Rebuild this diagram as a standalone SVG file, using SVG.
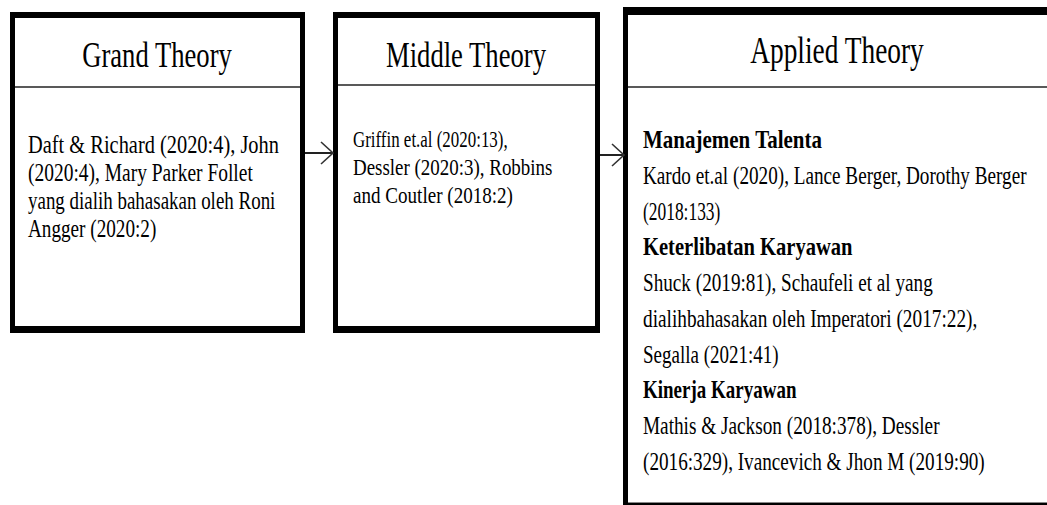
<svg xmlns="http://www.w3.org/2000/svg" width="1047" height="505" viewBox="0 0 1047 505">
<style>
.frame{fill:#000}
.inner{fill:#fff}
.div{stroke:#222;stroke-width:1.6;fill:none}
.title{font-family:"Liberation Serif","Times New Roman",serif;font-size:36px;fill:#000;text-anchor:middle}
.body{font-family:"Liberation Serif","Times New Roman",serif;fill:#000}
.b1{font-size:26px}
.b2{font-size:24px}
.b3{font-size:25px}
.bold{font-weight:bold}
.conn{stroke:#222;stroke-width:2;fill:none}
</style>
<defs>
<marker id="chev" markerUnits="userSpaceOnUse" markerWidth="16" markerHeight="28" refX="13" refY="12" orient="auto">
<path d="M1,1 L13,12 L1,23" fill="none" stroke="#333" stroke-width="1.6"/>
</marker>
</defs>
<rect width="1047" height="505" fill="#fff"/>
<g id="grand-theory">
<rect class="frame" x="10" y="12" width="295" height="321"/>
<rect class="inner" x="15" y="18" width="285" height="308"/>
<line class="div" x1="15" y1="87" x2="300" y2="87"/>
<text class="title" transform="translate(157,67) scale(0.74,1)">Grand Theory</text>
<text class="body b1" transform="translate(28,153) scale(0.785,1)">Daft &amp; Richard (2020:4), John</text>
<text class="body b1" transform="translate(28,181) scale(0.749,1)">(2020:4), Mary Parker Follet</text>
<text class="body b1" transform="translate(28,209) scale(0.729,1)">yang dialih bahasakan oleh Roni</text>
<text class="body b1" transform="translate(28,237) scale(0.738,1)">Angger (2020:2)</text>
</g>
<g id="middle-theory">
<rect class="frame" x="333" y="12" width="267" height="321"/>
<rect class="inner" x="338" y="18" width="257" height="308"/>
<line class="div" x1="338" y1="85" x2="595" y2="85"/>
<text class="title" transform="translate(466,67) scale(0.74,1)">Middle Theory</text>
<text class="body b2" transform="translate(353,147) scale(0.705,1)">Griffin et.al (2020:13),</text>
<text class="body b2" transform="translate(353,175) scale(0.79,1)">Dessler (2020:3), Robbins</text>
<text class="body b2" transform="translate(353,203) scale(0.795,1)">and Coutler (2018:2)</text>
</g>
<g id="applied-theory">
<rect class="frame" x="623" y="7" width="424" height="498"/>
<rect class="inner" x="628" y="15" width="419" height="487"/>
<line x1="628" y1="502.5" x2="1047" y2="502.5" stroke="#888" stroke-width="1"/>
<line class="div" x1="628" y1="87" x2="1047" y2="87"/>
<text class="title" style="font-size:38px" transform="translate(837,63) scale(0.72,1)">Applied Theory</text>
<text class="body b3 bold" transform="translate(643,148) scale(0.84,1)">Manajemen Talenta</text>
<text class="body b3" transform="translate(643,184) scale(0.768,1)">Kardo et.al (2020), Lance Berger, Dorothy Berger</text>
<text class="body b3" transform="translate(643,220) scale(0.697,1)">(2018:133)</text>
<text class="body b3 bold" transform="translate(643,255) scale(0.823,1)">Keterlibatan Karyawan</text>
<text class="body b3" transform="translate(643,291) scale(0.768,1)">Shuck (2019:81), Schaufeli et al yang</text>
<text class="body b3" transform="translate(643,327) scale(0.772,1)">dialihbahasakan oleh Imperatori (2017:22),</text>
<text class="body b3" transform="translate(643,363) scale(0.76,1)">Segalla (2021:41)</text>
<text class="body b3 bold" transform="translate(643,398) scale(0.76,1)">Kinerja Karyawan</text>
<text class="body b3" transform="translate(643,434) scale(0.77,1)">Mathis &amp; Jackson (2018:378), Dessler</text>
<text class="body b3" transform="translate(643,470) scale(0.767,1)">(2016:329), Ivancevich &amp; Jhon M (2019:90)</text>
</g>
<g id="connectors">
<line class="conn" x1="305" y1="153" x2="333" y2="153" marker-end="url(#chev)"/>
<line class="conn" x1="600" y1="155" x2="624" y2="155" marker-end="url(#chev)"/>
</g>
</svg>
